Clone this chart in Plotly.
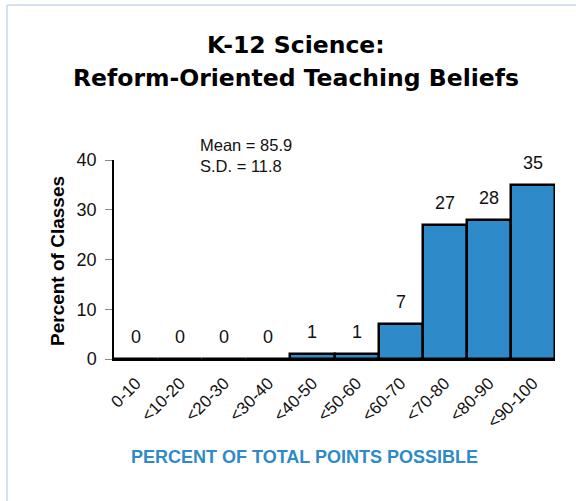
import plotly.graph_objects as go

# intervalos de puntaje y porcentaje de clases
bins = ["0-10", "<10-20", "<20-30", "<30-40", "<40-50", "<50-60",
        "<60-70", "<70-80", "<80-90", "<90-100"]
pct_classes = [0, 0, 0, 0, 1, 1, 7, 27, 28, 35]
y_ticks = [0, 10, 20, 30, 40]

W, H = 576, 501
L, R, T, B = 114, 21, 160, 142
BLUE = "#2E8AC8"
SANS = "Liberation Sans, Arial"
TITLE = "DejaVu Sans, Liberation Sans, Arial"


def px(x):
    return (x - L) / (W - L - R)


def py(y):
    return (H - B - y) / (H - T - B)


fig = go.Figure()
fig.add_trace(go.Bar(
    x=bins, y=pct_classes,
    marker=dict(color=BLUE, line=dict(color="black", width=2.5)),
))

# etiquetas de valor, separadas de la barra como en el original
for b, v in zip(bins, pct_classes):
    fig.add_annotation(
        x=b, y=v, text=str(v), showarrow=False, yanchor="bottom", yshift=10,
        font=dict(family=SANS, size=18, color="#111"),
    )

fig.update_layout(
    width=W, height=H,
    margin=dict(l=L, r=R, t=T, b=B),
    paper_bgcolor="white", plot_bgcolor="white",
    showlegend=False, bargap=0,
    font=dict(family=SANS, color="#111"),
)
fig.update_xaxes(
    showline=True, linecolor="black", linewidth=1.5, automargin=False,
    tickangle=-45, tickfont=dict(size=17, family=SANS), ticklabelstandoff=6,
    ticks="", showgrid=False,
)
fig.update_yaxes(
    range=[0, 40], tickvals=y_ticks, showgrid=False, zeroline=False,
    showline=True, linecolor="black", linewidth=1.5, automargin=False,
    ticks="outside", ticklen=7, tickcolor="#888", ticklabelstandoff=5,
    tickfont=dict(size=18, family=SANS),
)

ann = [
    dict(x=px(296), y=py(45), text="<b>K-12 Science:</b>", size=23.5,
         family=TITLE, color="black"),
    dict(x=px(296), y=py(78), text="<b>Reform-Oriented Teaching Beliefs</b>", size=23.5,
         family=TITLE, color="black"),
    dict(x=px(57), y=py(261), text="<b>Percent of Classes</b>", size=19,
         family=SANS, color="black", angle=-90),
    dict(x=px(304), y=py(457), text="<b>PERCENT OF TOTAL POINTS POSSIBLE</b>", size=18,
         family=SANS, color=BLUE),
]
for a in ann:
    fig.add_annotation(
        xref="paper", yref="paper", x=a["x"], y=a["y"], text=a["text"],
        showarrow=False, textangle=a.get("angle", 0),
        font=dict(size=a["size"], family=a["family"], color=a["color"]),
        xanchor="center", yanchor="middle",
    )

fig.add_annotation(
    xref="paper", yref="paper", x=px(198), y=py(155),
    text="Mean = 85.9<br>S.D. = 11.8", align="left", showarrow=False,
    xanchor="left", yanchor="middle",
    font=dict(size=16.5, family=SANS, color="#111"),
)

# marco azul claro a la izquierda y arriba
fig.add_shape(type="line", xref="paper", yref="paper",
              x0=px(7), x1=px(7), y0=py(5), y1=py(520),
              line=dict(color="#C9D9EE", width=1.5))
fig.add_shape(type="line", xref="paper", yref="paper",
              x0=px(7), x1=px(600), y0=py(5), y1=py(5),
              line=dict(color="#C9D9EE", width=1.5))

fig.write_html(
    "out.html",
    config={"displayModeBar": False},
    post_script="document.body.style.margin = '0';",
)
